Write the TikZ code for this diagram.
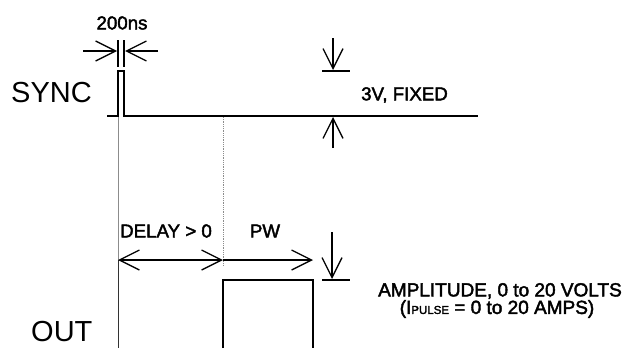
\documentclass[tikz,border=0pt]{standalone}
\usepackage{fontspec}
\setmainfont{Liberation Sans}
\newfontfamily\medfont{Liberation Sans}[FakeBold=2.2]
\usetikzlibrary{arrows.meta}
\begin{document}
\begin{tikzpicture}[x=1pt,y=-1pt,
  wave/.style={line width=1.8pt, line join=miter},
  dim/.style={line width=1.3pt},
  arr/.style={dim, -{Straight Barb[length=20pt,width=20pt,line width=1.3pt]}},
  darr/.style={dim, {Straight Barb[length=20pt,width=20pt,line width=1.3pt]}-{Straight Barb[length=20pt,width=20pt,line width=1.3pt]}},
  guide/.style={line width=0.8pt, black!45},
  lbl/.style={inner sep=0pt, font=\medfont\fontsize{18.7}{21}\selectfont},
  big/.style={inner sep=0pt, font=\fontsize{29}{33}\selectfont}]
\useasboundingbox (0,0) rectangle (626,348);
% coordinates
\coordinate (s0) at (107,116);
\coordinate (sr) at (118,116);
\coordinate (srt) at (118,71);
\coordinate (sft) at (124,71);
\coordinate (sf) at (124,116);
\coordinate (s1) at (478,116);
% SYNC waveform
\draw[wave] (s0) -- (sr) -- (srt) -- (sft) -- (sf) -- (s1);
\node[big, anchor=west] (sync) at (11,93) {SYNC};
% 200ns dimension
\coordinate (t1a) at (118,40); \coordinate (t1b) at (118,67);
\coordinate (t2a) at (124,40); \coordinate (t2b) at (124,67);
\draw[dim] (t1a) -- (t1b);
\draw[dim] (t2a) -- (t2b);
\coordinate (la) at (83,51); \coordinate (lt) at (117,51);
\coordinate (ra) at (158,51); \coordinate (rt) at (125,51);
\draw[arr] (la) -- (lt);
\draw[arr] (ra) -- (rt);
\node[lbl] (ns) at (122,23) {200ns};
% 3V fixed
\coordinate (va) at (333,38); \coordinate (vt) at (333,70);
\coordinate (k1) at (322,71); \coordinate (k2) at (350,71);
\draw[arr] (va) -- (vt);
\draw[dim] (k1) -- (k2);
\coordinate (ua) at (333,148); \coordinate (ut) at (333,117);
\draw[arr] (ua) -- (ut);
\node[lbl, anchor=west] (fix) at (361,95) {3V, FIXED};
% guides
\coordinate (g1a) at (118,117); \coordinate (g1b) at (118,260); \coordinate (g1c) at (118,348);
\draw[guide] (g1a) -- (g1b);
\draw[line width=0.9pt, black!80] (g1b) -- (g1c);
\coordinate (g2a) at (223,117); \coordinate (g2b) at (223,266);
\draw[guide, densely dotted] (g2a) -- (g2b);
% delay and PW
\coordinate (d0) at (118,260); \coordinate (d1) at (223,260); \coordinate (d2) at (313,260);
\draw[darr] (d0) -- (d1);
\draw[arr] (d1) -- (d2);
\node[lbl] (delay) at (166,231) {DELAY > 0};
\node[lbl] (pw) at (265,231) {PW};
% OUT pulse
\coordinate (o0) at (223,348); \coordinate (o1) at (223,280);
\coordinate (o2) at (313,280); \coordinate (o3) at (313,348);
\draw[wave] (o0) -- (o1) -- (o2) -- (o3);
\node[big, anchor=west] (out) at (31,332) {OUT};
% amplitude
\coordinate (aa) at (332,232); \coordinate (at_) at (332,279);
\coordinate (m1) at (322,280); \coordinate (m2) at (350,280);
\draw[arr] (aa) -- (at_);
\draw[dim] (m1) -- (m2);
\node[lbl, font=\medfont\fontsize{19}{21}\selectfont] (amp) at (500,291) {AMPLITUDE, 0 to 20 VOLTS};
\node[lbl, font=\medfont\fontsize{19}{21}\selectfont] (ip) at (497,309) {(I{\fontsize{11.5}{12}\selectfont PULSE} = 0 to 20 AMPS)};
\end{tikzpicture}
\end{document}
